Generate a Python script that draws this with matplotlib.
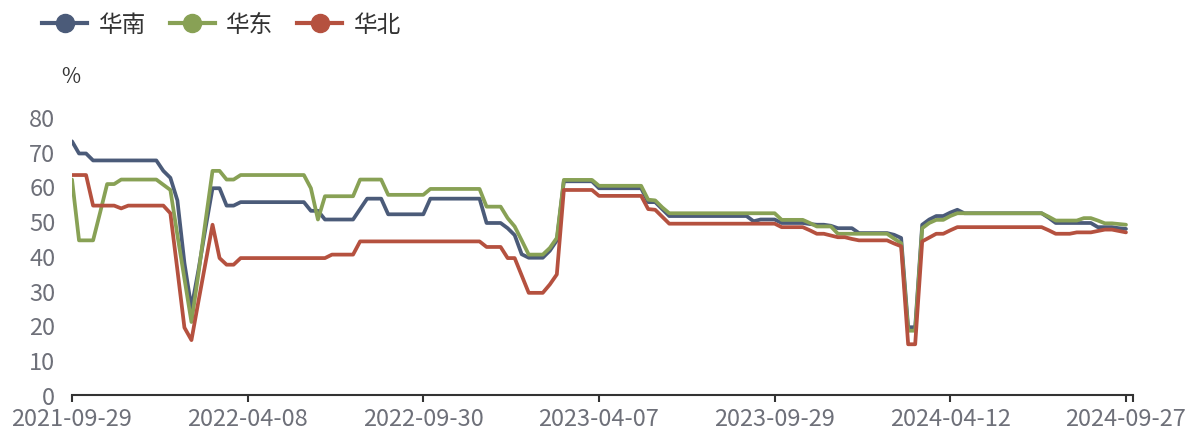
import numpy as np
import matplotlib
matplotlib.use('Agg')
import matplotlib.pyplot as plt
from matplotlib.lines import Line2D

plt.rcParams['font.family'] = ['Noto Sans CJK SC', 'DejaVu Sans']

# weekly operating rate (%)
series_names = ['华南', '华东', '华北']

south = [
    73, 69.5, 69.5, 67.5, 67.5, 67.5, 67.5, 67.5, 67.5, 67.5,
    67.5, 67.5, 67.5, 64.5, 62.5, 56, 38, 25, 36, 48,
    59.5, 59.5, 54.5, 54.5, 55.5, 55.5, 55.5, 55.5, 55.5, 55.5,
    55.5, 55.5, 55.5, 55.5, 53, 53, 50.5, 50.5, 50.5, 50.5,
    50.5, 53.5, 56.5, 56.5, 56.5, 52, 52, 52, 52, 52,
    52, 56.5, 56.5, 56.5, 56.5, 56.5, 56.5, 56.5, 56.5, 49.5,
    49.5, 49.5, 48, 46, 40.5, 39.5, 39.5, 39.5, 41.5, 44.5,
    61.5, 61.5, 61.5, 61.5, 61.5, 59.5, 59.5, 59.5, 59.5, 59.5,
    59.5, 59.5, 55.5, 55.5, 53.5, 51.5, 51.5, 51.5, 51.5, 51.5,
    51.5, 51.5, 51.5, 51.5, 51.5, 51.5, 51.5, 50, 50.5, 50.5,
    50.5, 49.5, 49.5, 49.5, 49.5, 49.2, 49, 49, 48.7, 48,
    48, 48, 46.6, 46.6, 46.6, 46.6, 46.6, 46.1, 45.2, 19.5,
    19.5, 49, 50.5, 51.5, 51.5, 52.5, 53.3, 52.3, 52.3, 52.3,
    52.3, 52.3, 52.3, 52.3, 52.3, 52.3, 52.3, 52.3, 52.3, 51,
    49.5, 49.5, 49.5, 49.5, 49.5, 49.5, 48.3, 48.3, 48.3, 48,
    47.8,
]

east = [
    62, 44.5, 44.5, 44.5, 52.5, 60.7, 60.7, 62, 62, 62,
    62, 62, 62, 60.5, 59, 46, 33.5, 21, 35, 50,
    64.5, 64.5, 62, 62, 63.3, 63.3, 63.3, 63.3, 63.3, 63.3,
    63.3, 63.3, 63.3, 63.3, 59.5, 50.5, 57.2, 57.2, 57.2, 57.2,
    57.2, 62, 62, 62, 62, 57.6, 57.6, 57.6, 57.6, 57.6,
    57.6, 59.3, 59.3, 59.3, 59.3, 59.3, 59.3, 59.3, 59.3, 54.2,
    54.2, 54.2, 50.9, 48.5, 44.5, 40.4, 40.4, 40.4, 42.3, 45.2,
    61.9, 61.9, 61.9, 61.9, 61.9, 60.2, 60.2, 60.2, 60.2, 60.2,
    60.2, 60.2, 56.2, 56, 54, 52.3, 52.3, 52.3, 52.3, 52.3,
    52.3, 52.3, 52.3, 52.3, 52.3, 52.3, 52.3, 52.3, 52.3, 52.3,
    52.3, 50.4, 50.4, 50.4, 50.4, 49.5, 48.5, 48.5, 48.5, 46.4,
    46.4, 46.4, 46.4, 46.4, 46.4, 46.4, 46.4, 45, 43.7, 18.5,
    18.5, 48, 49.5, 50.4, 50.4, 51.5, 52.3, 52.3, 52.3, 52.3,
    52.3, 52.3, 52.3, 52.3, 52.3, 52.3, 52.3, 52.3, 52.3, 51.3,
    50.2, 50.2, 50.2, 50.2, 50.9, 50.9, 50.2, 49.4, 49.4, 49.2,
    49,
]

north = [
    63.3, 63.3, 63.3, 54.5, 54.5, 54.5, 54.5, 53.7, 54.5, 54.5,
    54.5, 54.5, 54.5, 54.5, 52.3, 36, 19.4, 15.8, 27, 38,
    49, 39.4, 37.5, 37.5, 39.4, 39.4, 39.4, 39.4, 39.4, 39.4,
    39.4, 39.4, 39.4, 39.4, 39.4, 39.4, 39.4, 40.4, 40.4, 40.4,
    40.4, 44.2, 44.2, 44.2, 44.2, 44.2, 44.2, 44.2, 44.2, 44.2,
    44.2, 44.2, 44.2, 44.2, 44.2, 44.2, 44.2, 44.2, 44.2, 42.6,
    42.6, 42.6, 39.4, 39.4, 34.4, 29.4, 29.4, 29.4, 31.8, 34.7,
    59, 59, 59, 59, 59, 57.3, 57.3, 57.3, 57.3, 57.3,
    57.3, 57.3, 53.5, 53.3, 51.3, 49.3, 49.3, 49.3, 49.3, 49.3,
    49.3, 49.3, 49.3, 49.3, 49.3, 49.3, 49.3, 49.3, 49.3, 49.3,
    49.3, 48.3, 48.3, 48.3, 48.3, 47.4, 46.4, 46.4, 45.9, 45.4,
    45.4, 44.9, 44.5, 44.5, 44.5, 44.5, 44.5, 43.6, 42.8, 14.6,
    14.6, 44.2, 45.3, 46.4, 46.4, 47.4, 48.3, 48.3, 48.3, 48.3,
    48.3, 48.3, 48.3, 48.3, 48.3, 48.3, 48.3, 48.3, 48.3, 47.4,
    46.4, 46.4, 46.4, 46.8, 46.8, 46.8, 47.2, 47.6, 47.6, 47.2,
    46.8,
]

tick_labels = ['2021-09-29', '2022-04-08', '2022-09-30', '2023-04-07',
               '2023-09-29', '2024-04-12', '2024-09-27']
label_every = 25

colors = ['#4b5b79', '#88a155', '#b5513f']
LABEL_COLOR = '#6e7079'
AXIS_COLOR = '#333333'
W, H = 1200, 439

fig = plt.figure(figsize=(W / 100, H / 100), dpi=100)
ax = fig.add_axes([72 / W, 1 - 396 / H, (1133 - 72) / W, (396 - 118) / H])

x = np.arange(len(south))
for vals, c, name in zip([south, east, north], colors, series_names):
    ax.plot(x, vals, color=c, lw=2.7, label=name,
            solid_joinstyle='round', solid_capstyle='round')

n_cat = len(south)
ax.set_xlim(0, n_cat)
ax.set_ylim(0, 80)
ax.set_yticks(range(0, 81, 10))

xt = [i * label_every for i in range(len(tick_labels))] + [n_cat]
ax.set_xticks(xt)
ax.set_xticklabels(tick_labels + [''])

for s in ['top', 'right', 'left']:
    ax.spines[s].set_visible(False)
ax.spines['bottom'].set_color(AXIS_COLOR)
ax.spines['bottom'].set_linewidth(1.5)

ax.tick_params(axis='y', length=0, pad=12, labelsize=17, labelcolor=LABEL_COLOR)
ax.tick_params(axis='x', length=5, width=1.5, color=AXIS_COLOR, pad=4,
               labelsize=17, labelcolor=LABEL_COLOR)

fig.text(71 / W, 1 - 77 / H, '%', ha='center', va='center', fontsize=15, color=AXIS_COLOR)

handles = [Line2D([0], [0], color=c, lw=3, marker='o', markersize=13) for c in colors]
fig.legend(handles, series_names, loc='upper left', bbox_to_anchor=(28 / W, 1.0),
           ncol=3, frameon=False, fontsize=17, labelcolor=AXIS_COLOR,
           handlelength=1.9, handletextpad=0.5, columnspacing=1.0, borderaxespad=0.2)

fig.savefig('out.png', dpi=100)
